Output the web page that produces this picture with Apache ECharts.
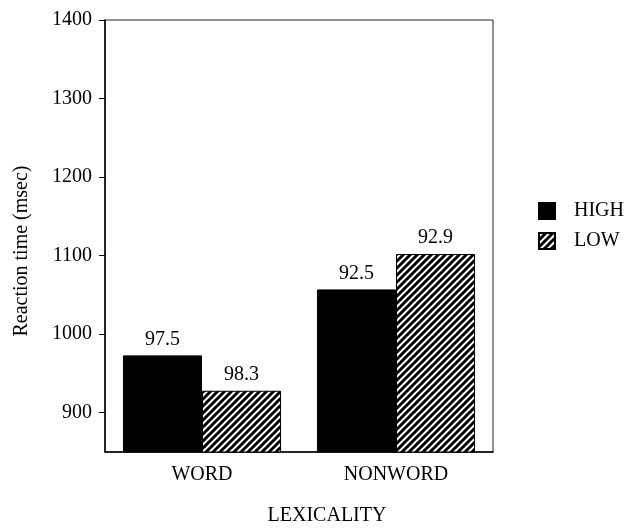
<!DOCTYPE html>
<html>
<head>
<meta charset="utf-8">
<script src="https://cdn.jsdelivr.net/npm/echarts@6/dist/echarts.min.js"></script>
<style>html,body{margin:0;padding:0;background:#fff}#chart{width:628px;height:531px}</style>
</head>
<body>
<div id="chart"></div>
<script>
// Data
var categories = ['WORD', 'NONWORD'];
var seriesNames = ['HIGH', 'LOW'];
var highRT = [973, 1057];
var lowRT = [928, 1102];
var highAcc = ['97.5', '92.5'];
var lowAcc = ['98.3', '92.9'];
var yTicks = [900, 1000, 1100, 1200, 1300, 1400];

function hatch() {
  var s = 7;
  var c = document.createElement('canvas');
  c.width = s; c.height = s;
  var g = c.getContext('2d');
  g.fillStyle = '#fff';
  g.fillRect(0, 0, s, s);
  g.strokeStyle = '#000';
  g.lineWidth = 3;
  for (var k = -s; k <= s; k += s) {
    g.beginPath();
    g.moveTo(k - 1, s + 1);
    g.lineTo(k + s + 1, -1);
    g.stroke();
  }
  return c;
}

var font = '"Liberation Serif", "Times New Roman", serif';
var fs = 20;
var chart = echarts.init(document.getElementById('chart'), null, {renderer: 'canvas'});
chart.setOption({
  animation: false,
  backgroundColor: '#fff',
  textStyle: {fontFamily: font, color: '#000'},
  grid: {left: 105, right: 135, top: 20, bottom: 74, show: true, borderColor: '#222', borderWidth: 1},
  legend: {
    left: 538, top: 201, orient: 'vertical', icon: 'rect', padding: 0,
    itemWidth: 16, itemHeight: 16, itemGap: 10,
    textStyle: {fontFamily: font, fontSize: fs, color: '#000', padding: [0, 0, 0, 14], lineHeight: 20},
    data: seriesNames
  },
  xAxis: {
    type: 'category', data: categories,
    name: 'LEXICALITY', nameLocation: 'middle', nameGap: 54,
    nameTextStyle: {fontFamily: font, fontSize: fs, color: '#000', padding: [0, 0, 0, 56]},
    axisLine: {lineStyle: {color: '#000', width: 1.5}},
    axisTick: {alignWithLabel: true, length: 5, lineStyle: {color: '#000'}},
    axisLabel: {fontFamily: font, fontSize: fs, color: '#000', margin: 13}
  },
  yAxis: {
    type: 'value', min: 850, max: 1400,
    name: 'Reaction time (msec)', nameLocation: 'middle', nameGap: 73,
    nameTextStyle: {fontFamily: font, fontSize: fs, color: '#000', padding: [0, 30, 0, 0]},
    splitLine: {show: false},
    axisLine: {show: true, lineStyle: {color: '#000', width: 1.5}},
    axisTick: {show: true, length: 6, customValues: yTicks, lineStyle: {color: '#000'}},
    axisLabel: {fontFamily: font, fontSize: fs, color: '#000', margin: 13, customValues: yTicks,
      formatter: function (v) { return String(v); }}
  },
  series: [
    {
      name: 'HIGH', type: 'bar', data: highRT, barGap: '0%', barCategoryGap: '18.5%',
      itemStyle: {color: '#000', borderColor: '#000', borderWidth: 1},
      label: {show: true, position: 'top', distance: 6, fontFamily: font, fontSize: fs, color: '#000',
        formatter: function (p) { return highAcc[p.dataIndex]; }}
    },
    {
      name: 'LOW', type: 'bar', data: lowRT,
      itemStyle: {color: {image: hatch(), repeat: 'repeat'}, borderColor: '#000', borderWidth: 1},
      label: {show: true, position: 'top', distance: 6, fontFamily: font, fontSize: fs, color: '#000',
        formatter: function (p) { return lowAcc[p.dataIndex]; }}
    }
  ]
});
</script>
</body>
</html>
